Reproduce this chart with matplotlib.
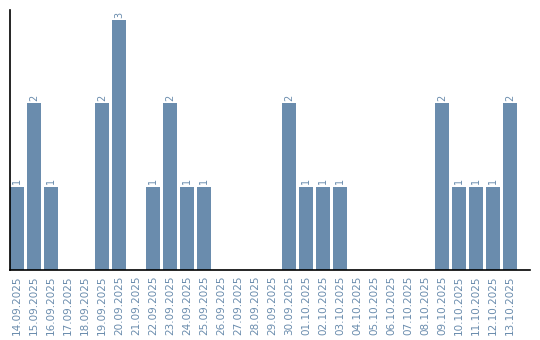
import matplotlib
matplotlib.use("Agg")
import matplotlib.pyplot as plt

dates = ["14.09.2025", "15.09.2025", "16.09.2025", "17.09.2025", "18.09.2025",
         "19.09.2025", "20.09.2025", "21.09.2025", "22.09.2025", "23.09.2025",
         "24.09.2025", "25.09.2025", "26.09.2025", "27.09.2025", "28.09.2025",
         "29.09.2025", "30.09.2025", "01.10.2025", "02.10.2025", "03.10.2025",
         "04.10.2025", "05.10.2025", "06.10.2025", "07.10.2025", "08.10.2025",
         "09.10.2025", "10.10.2025", "11.10.2025", "12.10.2025", "13.10.2025"]
counts = [1, 2, 1, 0, 0, 2, 3, 0, 1, 2, 1, 1, 0, 0, 0, 0, 2, 1, 1, 1,
          0, 0, 0, 0, 0, 2, 1, 1, 1, 2]

color = "#6a8cad"
fig = plt.figure(figsize=(5.4, 3.4), dpi=100)
ax = fig.add_axes([10/540, 70/340, 520/540, 260/340])
x = list(range(len(dates)))
ax.bar(x, counts, width=0.82, color=color)
for xi, v in zip(x, counts):
    if v > 0:
        ax.text(xi, v + 0.03, str(v), rotation=90, ha="center", va="bottom",
                fontsize=7, color=color)
ax.set_xlim(-0.41, -0.41 + 520/17)
ax.set_ylim(0, 3.12)
ax.set_xticks(x)
ax.set_xticklabels(dates, rotation=90, fontsize=7.5, color=color)
ax.tick_params(axis="x", length=0, pad=4)
ax.set_yticks([])
ax.spines["top"].set_visible(False)
ax.spines["right"].set_visible(False)
for s in ("left", "bottom"):
    ax.spines[s].set_color("black")
    ax.spines[s].set_linewidth(1.2)
fig.savefig("out.png", dpi=100)
